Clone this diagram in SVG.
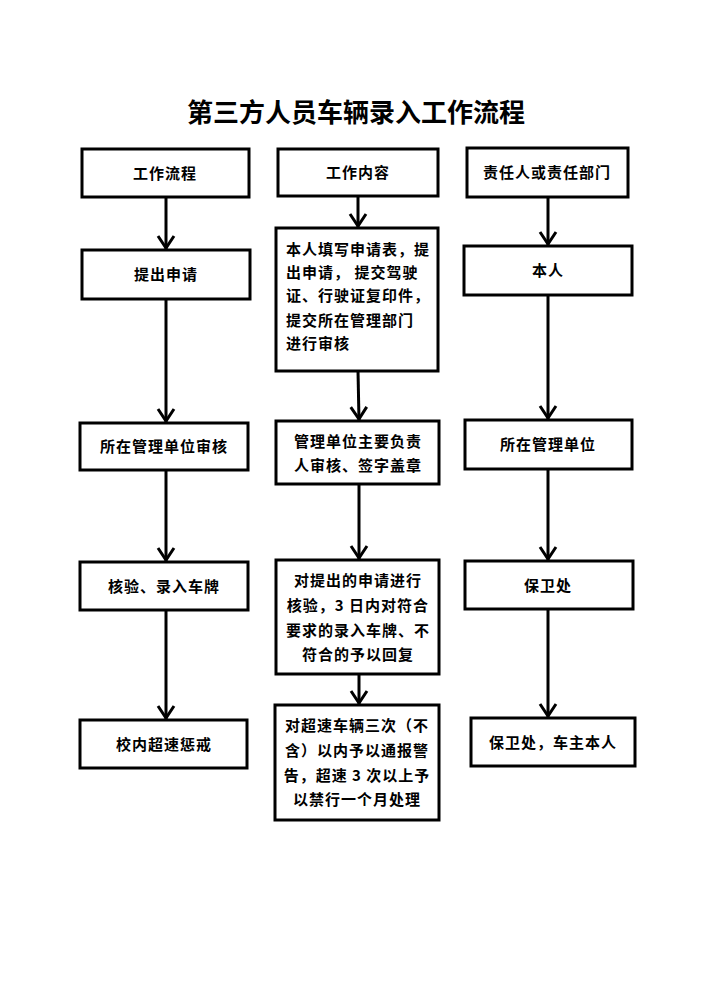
<svg xmlns="http://www.w3.org/2000/svg" width="710" height="1004" viewBox="0 0 710 1004">
<defs>
<marker id="ah" viewBox="0 0 20 20" refX="18" refY="10" markerWidth="20" markerHeight="20" markerUnits="userSpaceOnUse" orient="auto">
<path d="M5,2 L17,10 L5,18" fill="none" stroke="#000" stroke-width="3"/>
</marker>
<style>
.box{fill:#fff;stroke:#000;stroke-width:3}
.t{font-family:"Noto Sans CJK SC","Noto Sans",sans-serif;font-size:15px;font-weight:bold;fill:#000;letter-spacing:1px}
.c{text-anchor:middle}
.ttl{font-family:"Noto Sans CJK SC","Noto Sans",sans-serif;font-size:26px;font-weight:bold;text-anchor:middle;fill:#000}
.ln{stroke:#000;stroke-width:3;fill:none;marker-end:url(#ah)}
</style>
</defs>
<rect width="710" height="1004" fill="#fff"/>
<text class="ttl" x="356" y="122">第三方人员车辆录入工作流程</text>

<g id="connectors">
<line class="ln" x1="166" y1="197" x2="166" y2="249"/>
<line class="ln" x1="166" y1="299" x2="166" y2="422"/>
<line class="ln" x1="166" y1="470" x2="166" y2="561"/>
<line class="ln" x1="166" y1="610" x2="166" y2="719"/>
<line class="ln" x1="358" y1="196" x2="358" y2="227"/>
<line class="ln" x1="358" y1="371" x2="359" y2="420"/>
<line class="ln" x1="359" y1="484" x2="359" y2="559"/>
<line class="ln" x1="359" y1="674" x2="359" y2="704"/>
<line class="ln" x1="548" y1="197" x2="548" y2="245"/>
<line class="ln" x1="548" y1="295" x2="548" y2="419"/>
<line class="ln" x1="548" y1="469" x2="548" y2="560"/>
<line class="ln" x1="548" y1="609" x2="548" y2="717"/>
</g>

<g id="n1"><rect class="box" x="82" y="149" width="167" height="48"/><text class="t c" x="165" y="179">工作流程</text></g>
<g id="n2"><rect class="box" x="82" y="250" width="168" height="49"/><text class="t c" x="166" y="280">提出申请</text></g>
<g id="n3"><rect class="box" x="80" y="423" width="168" height="47"/><text class="t c" x="164" y="452">所在管理单位审核</text></g>
<g id="n4"><rect class="box" x="80" y="562" width="168" height="48"/><text class="t c" x="164" y="592">核验、录入车牌</text></g>
<g id="n5"><rect class="box" x="80" y="720" width="167" height="48"/><text class="t c" x="164" y="750">校内超速惩戒</text></g>

<g id="m1"><rect class="box" x="278" y="149" width="160" height="47"/><text class="t c" x="358" y="178">工作内容</text></g>
<g id="m2"><rect class="box" x="276" y="228" width="162" height="143"/>
<text class="t" x="286" y="255">本人填写申请表，提</text>
<text class="t" x="286" y="278">出申请， 提交驾驶</text>
<text class="t" x="286" y="301">证、行驶证复印件，</text>
<text class="t" x="286" y="326">提交所在管理部门</text>
<text class="t" x="286" y="349">进行审核</text></g>
<g id="m3"><rect class="box" x="276" y="421" width="163" height="63"/>
<text class="t c" x="358" y="447">管理单位主要负责</text>
<text class="t c" x="358" y="471">人审核、签字盖章</text></g>
<g id="m4"><rect class="box" x="276" y="560" width="163" height="114"/>
<text class="t c" x="358" y="586">对提出的申请进行</text>
<text class="t c" x="358" y="611">核验，3 日内对符合</text>
<text class="t c" x="358" y="636">要求的录入车牌、不</text>
<text class="t c" x="358" y="660">符合的予以回复</text></g>
<g id="m5"><rect class="box" x="275" y="705" width="164" height="115"/>
<text class="t c" x="357" y="731">对超速车辆三次（不</text>
<text class="t c" x="357" y="756">含）以内予以通报警</text>
<text class="t c" x="357" y="781">告，超速 3 次以上予</text>
<text class="t c" x="357" y="805">以禁行一个月处理</text></g>

<g id="r1"><rect class="box" x="467" y="148" width="161" height="49"/><text class="t c" x="547" y="178">责任人或责任部门</text></g>
<g id="r2"><rect class="box" x="464" y="246" width="168" height="49"/><text class="t c" x="548" y="276">本人</text></g>
<g id="r3"><rect class="box" x="465" y="420" width="167" height="49"/><text class="t c" x="548" y="450">所在管理单位</text></g>
<g id="r4"><rect class="box" x="465" y="561" width="168" height="48"/><text class="t c" x="548" y="591">保卫处</text></g>
<g id="r5"><rect class="box" x="471" y="718" width="164" height="48"/><text class="t c" x="553" y="748">保卫处，车主本人</text></g>
</svg>
